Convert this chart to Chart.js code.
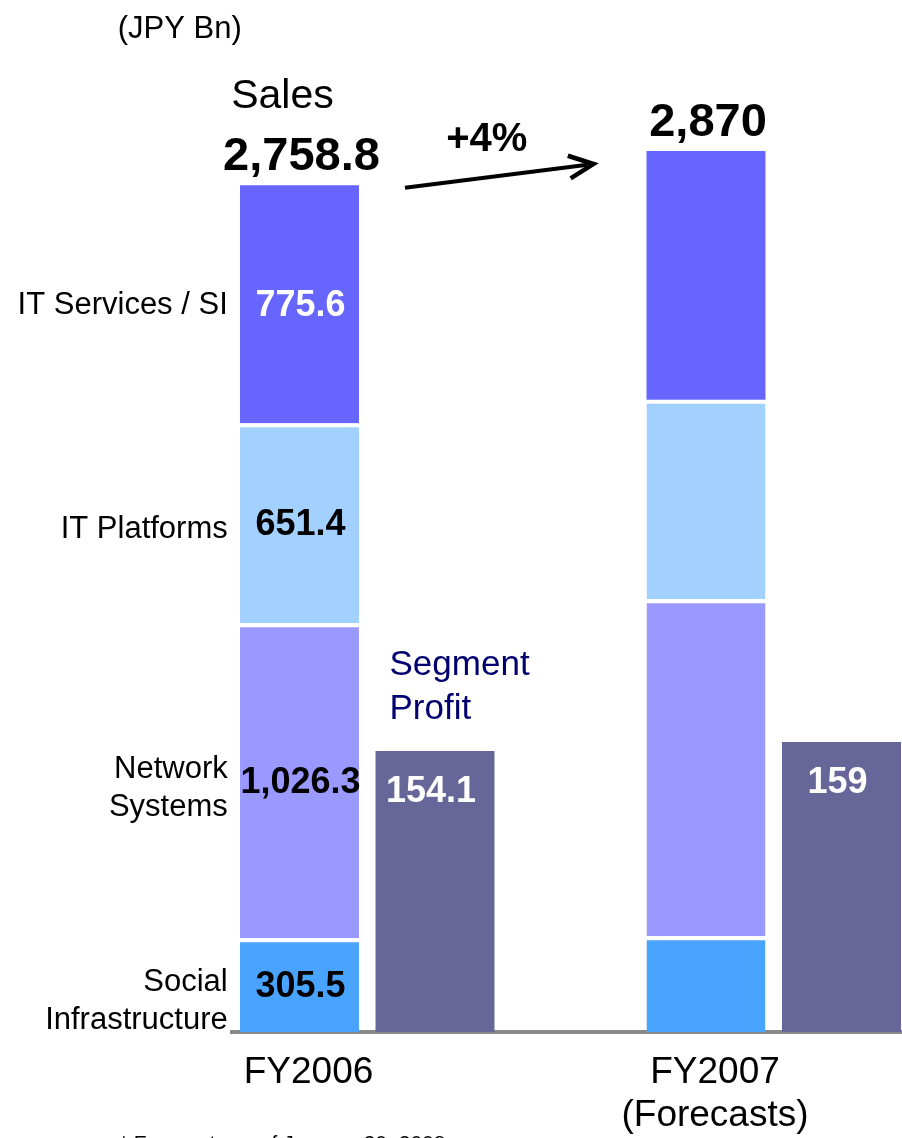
<!DOCTYPE html>
<html><head><meta charset="utf-8">
<script src="https://cdn.jsdelivr.net/npm/chart.js@4"></script>
<style>html,body{margin:0;padding:0;overflow:hidden;background:#fff;width:902px;height:1138px}canvas{display:block}</style>
</head><body>
<canvas id="c" width="912" height="1138"></canvas>
<script>
// ---------- data ----------
const periods = ['FY2006', 'FY2007'];
const periodNotes = ['', '(Forecasts)'];
const unitLabel = '(JPY Bn)';
const salesTitle = 'Sales';
const profitTitle = ['Segment', 'Profit'];
const footnote = '* Forecasts as of January 30, 2008';
const growthLabel = '+4%';
const segmentNames = [['Social', 'Infrastructure'], ['Network', 'Systems'], ['IT Platforms'], ['IT Services / SI']];
const socialInfrastructure = [305.5, 312];
const networkSystems = [1026.3, 1098];
const itPlatforms = [651.4, 650];
const itServices = [775.6, 810];
const salesTotals = [2758.8, 2870];
const segmentProfit = [154.1, 159];

// ---------- styles ----------
const segColors = ['#48A4FF', '#9999FF', '#A2D0FF', '#6666FF'];
const segLabelColors = ['#000000', '#000000', '#000000', '#FFFFFF'];
const nameDy = [14, 6, 4, -1];
const profitColor = '#666699';
const FONT = '"Liberation Sans", Arial, Helvetica, sans-serif';

// slots on the category axis: sales FY2006, profit FY2006, gap, sales FY2007, profit FY2007
const salesSlot = [0, 3];
const profitSlot = [1, 4];
function toSlots(vals, slots) {
  const out = [null, null, null, null, null];
  slots.forEach((s, i) => { out[s] = vals[i]; });
  return out;
}
const xLabels = ['', '', '', '', ''];
salesSlot.forEach((s, i) => { xLabels[s] = periodNotes[i] ? [periods[i], periodNotes[i]] : periods[i]; });

const fmt = new Intl.NumberFormat('en-US', { maximumFractionDigits: 1 });
const segSeries = [socialInfrastructure, networkSystems, itPlatforms, itServices];

const datasets = segSeries.map((vals, i) => ({
  label: segmentNames[i].join(' '),
  data: toSlots(vals, salesSlot),
  backgroundColor: segColors[i],
  borderColor: '#FFFFFF',
  borderWidth: i === segSeries.length - 1 ? 0 : { top: 4, left: 0, right: 0, bottom: 0 },
  borderSkipped: 'start',
  yAxisID: 'y'
}));
datasets.push({
  label: profitTitle.join(' '),
  data: toSlots(segmentProfit, profitSlot),
  backgroundColor: profitColor,
  borderWidth: 0,
  yAxisID: 'y2'
});

function drawText(ctx, lines, x, y, size, weight, color, align, baseline, lh) {
  if (!Array.isArray(lines)) lines = [lines];
  ctx.save();
  ctx.font = `${weight} ${size}px ${FONT}`;
  ctx.fillStyle = color;
  ctx.textAlign = align;
  ctx.textBaseline = baseline;
  lines.forEach((l, k) => ctx.fillText(l, x, y + k * (lh || 0)));
  ctx.restore();
}

const annotations = {
  id: 'annotations',
  afterDatasetsDraw(chart) {
    const ctx = chart.ctx;
    const ca = chart.chartArea;
    const segMetas = segSeries.map((_, i) => chart.getDatasetMeta(i));
    const profitMeta = chart.getDatasetMeta(segSeries.length);
    const topMeta = segMetas[segMetas.length - 1];

    // unit label
    drawText(ctx, unitLabel, ca.left - 114, 38, 31, 'normal', '#000', 'left', 'alphabetic');

    // segment values (first period) and left names
    segMetas.forEach((m, i) => {
      const bar = m.data[salesSlot[0]];
      const cy = (bar.y + bar.base) / 2 + 2;
      drawText(ctx, fmt.format(segSeries[i][0]), bar.x + 1, cy, 36, 'bold', segLabelColors[i], 'center', 'middle');
      const names = segmentNames[i];
      const lh = 38;
      const y0 = cy + nameDy[i] - (names.length - 1) * lh / 2;
      drawText(ctx, names, ca.left - 4, y0, 31, 'normal', '#000', 'right', 'middle', lh);
    });

    // totals
    salesSlot.forEach((s, i) => {
      const bar = topMeta.data[s];
      drawText(ctx, fmt.format(salesTotals[i]), bar.x + 2, bar.y - 15, 47, 'bold', '#000', 'center', 'alphabetic');
    });
    const b0 = topMeta.data[salesSlot[0]];
    const b1 = topMeta.data[salesSlot[1]];
    drawText(ctx, salesTitle, b0.x - 17, b0.y - 77, 41, 'normal', '#000', 'center', 'alphabetic');

    // growth arrow
    const sx = b0.x + b0.width / 2 + 46, sy = b0.y + 2.5;
    const ex = b1.x - b1.width / 2 - 53, ey = b1.y + 13;
    ctx.save();
    ctx.strokeStyle = '#000';
    ctx.fillStyle = '#000';
    ctx.lineWidth = 4;
    ctx.lineCap = 'butt';
    ctx.beginPath();
    ctx.moveTo(sx, sy);
    ctx.lineTo(ex - 6, ey + 0.8);
    ctx.stroke();
    const ang = Math.atan2(ey - sy, ex - sx);
    const hl = 27, ha = 25 * Math.PI / 180;
    ctx.lineJoin = 'miter';
    ctx.lineWidth = 4.5;
    ctx.beginPath();
    ctx.moveTo(ex - hl * Math.cos(ang - ha), ey - hl * Math.sin(ang - ha));
    ctx.lineTo(ex, ey);
    ctx.lineTo(ex - hl * Math.cos(ang + ha), ey - hl * Math.sin(ang + ha));
    ctx.stroke();
    ctx.restore();
    drawText(ctx, growthLabel, (sx + ex) / 2 - 12.5, ey - 13, 40, 'bold', '#000', 'center', 'alphabetic');

    // profit values and title
    profitSlot.forEach((s, i) => {
      const bar = profitMeta.data[s];
      drawText(ctx, fmt.format(segmentProfit[i]), bar.x - 4, bar.y + 41, 36, 'bold', '#FFFFFF', 'center', 'middle');
    });
    const p0 = profitMeta.data[profitSlot[0]];
    drawText(ctx, profitTitle, p0.x - p0.width / 2 + 14, p0.y - 75.7, 35, 'normal', '#000070', 'left', 'alphabetic', 43.3);

    // footnote
    drawText(ctx, footnote, ca.left - 112, 1150, 21, 'normal', '#000', 'left', 'alphabetic');
  }
};

new Chart(document.getElementById('c'), {
  type: 'bar',
  data: { labels: xLabels, datasets },
  options: {
    responsive: false,
    animation: false,
    devicePixelRatio: 1,
    layout: { padding: { left: 231.75, right: 2.75, top: 0, bottom: 0 } },
    categoryPercentage: 1,
    barPercentage: 0.878,
    plugins: { legend: { display: false }, tooltip: { enabled: false } },
    scales: {
      x: {
        stacked: true,
        z: 1,
        grid: { display: false, drawTicks: false },
        border: { display: true, color: '#888888', width: 4 },
        ticks: {
          color: '#000',
          padding: 19,
          labelOffset: 9,
          maxRotation: 0,
          autoSkip: false,
          font: { family: FONT, size: 37, lineHeight: 1.17 }
        },
        afterFit(scale) { scale.height = 106; }
      },
      y: { display: false, stacked: true, min: 0, max: 3362 },
      y2: { display: false, min: 0, max: 566, position: 'right' }
    }
  },
  plugins: [annotations]
});
</script>
</body></html>
